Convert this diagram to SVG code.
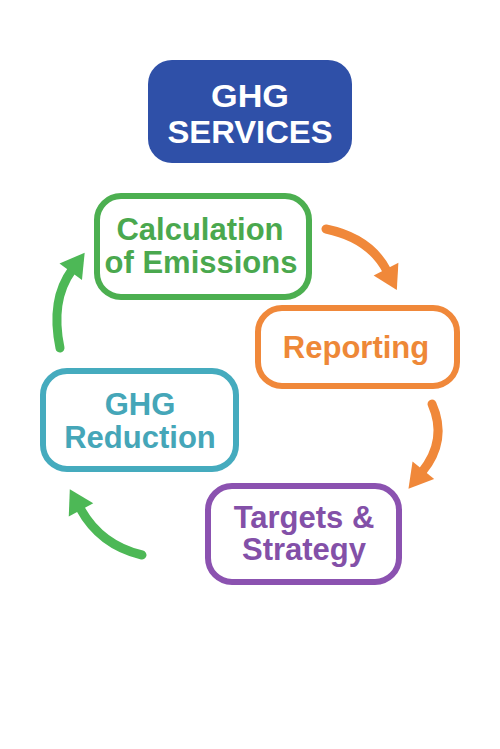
<svg xmlns="http://www.w3.org/2000/svg" width="500" height="749" viewBox="0 0 500 749">
<style>
.box{fill:#fff;stroke-width:6}
.t{font-family:"Liberation Sans",Arial,sans-serif;font-weight:700;font-size:31px;text-anchor:middle}
.arr{fill:none;stroke-width:9;stroke-linecap:round}
</style>
<defs>
<marker id="hO" markerUnits="userSpaceOnUse" markerWidth="30" markerHeight="30" viewBox="-2 -14 26 28" refX="2" refY="0" orient="auto"><path d="M0,-13 L22,0 L0,13 z" fill="#F0883A"/></marker>
<marker id="hG" markerUnits="userSpaceOnUse" markerWidth="30" markerHeight="30" viewBox="-2 -14 26 28" refX="2" refY="0" orient="auto"><path d="M0,-13 L22,0 L0,13 z" fill="#4DB856"/></marker>
</defs>
<rect width="500" height="749" fill="#fff"/>
<g id="title">
<rect x="148" y="60" width="204" height="103" rx="24" fill="#2F50A8"/>
<text class="t" x="250" y="107" fill="#fff" font-size="36" textLength="78" lengthAdjust="spacingAndGlyphs">GHG</text>
<text class="t" x="250" y="143" fill="#fff" font-size="36" textLength="165" lengthAdjust="spacingAndGlyphs">SERVICES</text>
</g>
<g id="calc">
<rect class="box" x="97" y="196" width="212" height="101" rx="24" stroke="#4CAF50"/>
<text class="t" x="200" y="240" fill="#4AA84E">Calculation</text>
<text class="t" x="201" y="273" fill="#4AA84E">of Emissions</text>
</g>
<g id="reporting">
<rect class="box" x="258" y="308" width="199" height="78" rx="24" stroke="#F0883A"/>
<text class="t" x="356" y="358" fill="#EE8837">Reporting</text>
</g>
<g id="reduction">
<rect class="box" x="43" y="371" width="193" height="98" rx="24" stroke="#45ABBE"/>
<text class="t" x="140" y="415" fill="#45A6B8">GHG</text>
<text class="t" x="140" y="448" fill="#45A6B8">Reduction</text>
</g>
<g id="targets">
<rect class="box" x="208" y="486" width="191" height="96" rx="24" stroke="#8B52B0"/>
<text class="t" x="304" y="528" fill="#8350A8">Targets &amp;</text>
<text class="t" x="304" y="560" fill="#8350A8">Strategy</text>
</g>
<g id="connectors">
<path class="arr" d="M 326 229 Q 370 238 387 271" stroke="#F0883A" marker-end="url(#hO)"/>
<path class="arr" d="M 432 404 Q 448 440 422 472" stroke="#F0883A" marker-end="url(#hO)"/>
<path class="arr" d="M 142 555 Q 100 545 80 508" stroke="#4DB856" marker-end="url(#hG)"/>
<path class="arr" d="M 60 348 Q 50 300 72 270" stroke="#4DB856" marker-end="url(#hG)"/>
</g>
</svg>
